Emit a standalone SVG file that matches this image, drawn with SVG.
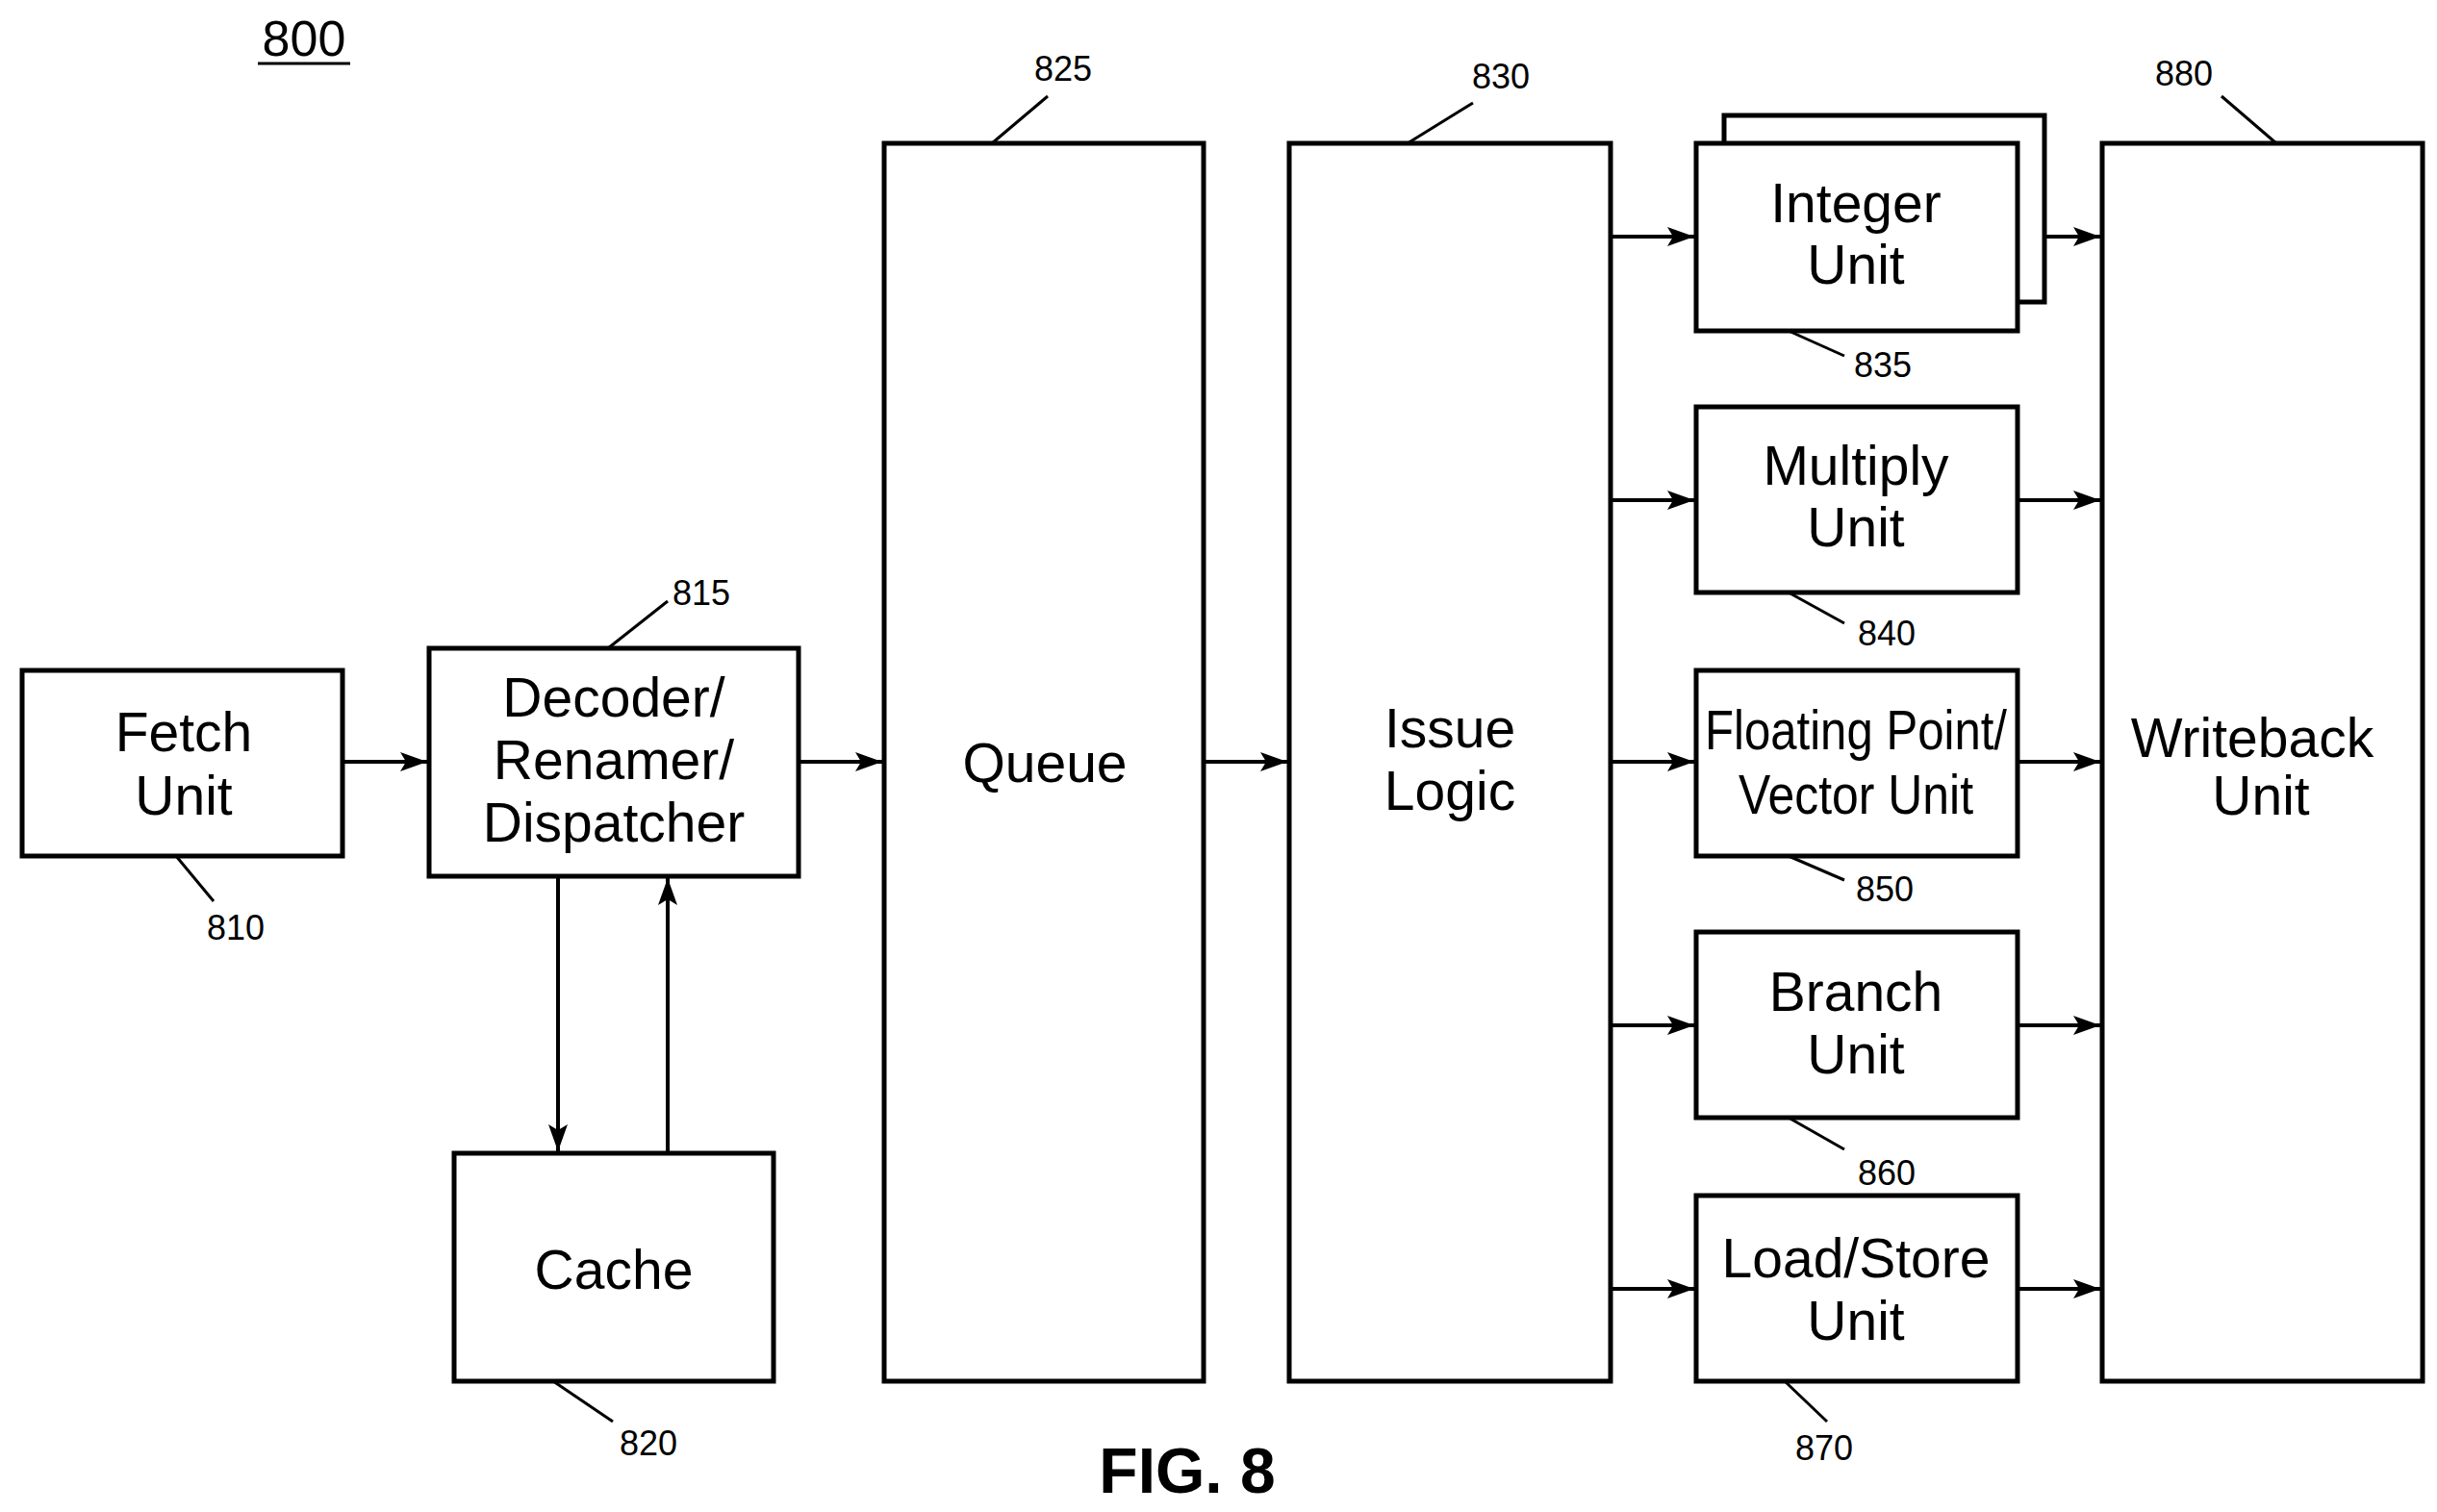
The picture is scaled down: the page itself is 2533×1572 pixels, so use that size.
<svg xmlns="http://www.w3.org/2000/svg" width="2533" height="1572" viewBox="0 0 2533 1572">
<style>
.b{fill:#fff;stroke:#000;stroke-width:5}
.t{font-family:"Liberation Sans",Arial,sans-serif;font-size:57px;text-anchor:middle}
.n{font-family:"Liberation Sans",Arial,sans-serif;font-size:36px;text-anchor:middle}
.c line{stroke:#000;stroke-width:4}
.l{stroke:#000;stroke-width:3}
</style>
<defs><marker id="a" markerWidth="28" markerHeight="20" refX="28" refY="10" orient="auto" markerUnits="userSpaceOnUse" viewBox="0 0 28 20"><path d="M0,0L28,10L0,20L6,10z"/></marker></defs>
<rect width="2533" height="1572" fill="#fff"/>
<text class="n" x="316" y="58" style="font-size:52px">800</text><line class="l" x1="268" y1="66" x2="364" y2="66"/>
<g class="c">
<line x1="356" y1="792" x2="444" y2="792" marker-end="url(#a)"/>
<line x1="830" y1="792" x2="917" y2="792" marker-end="url(#a)"/>
<line x1="1251" y1="792" x2="1338" y2="792" marker-end="url(#a)"/>
<line x1="580" y1="911" x2="580" y2="1197" marker-end="url(#a)"/>
<line x1="694" y1="1199" x2="694" y2="913" marker-end="url(#a)"/>
<line x1="1674" y1="246" x2="1761" y2="246" marker-end="url(#a)"/>
<line x1="1674" y1="520" x2="1761" y2="520" marker-end="url(#a)"/>
<line x1="1674" y1="792" x2="1761" y2="792" marker-end="url(#a)"/>
<line x1="1674" y1="1066" x2="1761" y2="1066" marker-end="url(#a)"/>
<line x1="1674" y1="1340" x2="1761" y2="1340" marker-end="url(#a)"/>
<line x1="2125" y1="246" x2="2183" y2="246" marker-end="url(#a)"/>
<line x1="2097" y1="520" x2="2183" y2="520" marker-end="url(#a)"/>
<line x1="2097" y1="792" x2="2183" y2="792" marker-end="url(#a)"/>
<line x1="2097" y1="1066" x2="2183" y2="1066" marker-end="url(#a)"/>
<line x1="2097" y1="1340" x2="2183" y2="1340" marker-end="url(#a)"/>
</g>
<g id="fetch"><rect class="b" x="23" y="697" width="333" height="193"/><text class="t" x="191" y="781">Fetch</text><text class="t" x="191" y="847">Unit</text><line class="l" x1="183" y1="890" x2="222" y2="937"/><text class="n" x="245" y="977">810</text></g>
<g id="decoder"><rect class="b" x="446" y="674" width="384" height="237"/><text class="t" x="638" y="745">Decoder/</text><text class="t" x="638" y="810">Renamer/</text><text class="t" x="638" y="875">Dispatcher</text><line class="l" x1="632" y1="674" x2="694" y2="625"/><text class="n" x="729" y="629">815</text></g>
<g id="cache"><rect class="b" x="472" y="1199" width="332" height="237"/><text class="t" x="638" y="1340">Cache</text><line class="l" x1="575" y1="1436" x2="637" y2="1478"/><text class="n" x="674" y="1513">820</text></g>
<g id="queue"><rect class="b" x="919" y="149" width="332" height="1287"/><text class="t" x="1086" y="813">Queue</text><line class="l" x1="1031" y1="149" x2="1089" y2="100"/><text class="n" x="1105" y="84">825</text></g>
<g id="issue"><rect class="b" x="1340" y="149" width="334" height="1287"/><text class="t" x="1507" y="777">Issue</text><text class="t" x="1507" y="842">Logic</text><line class="l" x1="1463" y1="149" x2="1531" y2="107"/><text class="n" x="1560" y="92">830</text></g>
<g id="integer"><rect class="b" x="1792" y="120" width="333" height="194"/><rect class="b" x="1763" y="149" width="334" height="195"/><text class="t" x="1929" y="231">Integer</text><text class="t" x="1929" y="295">Unit</text><line class="l" x1="1859" y1="344" x2="1917" y2="370"/><text class="n" x="1957" y="392">835</text></g>
<g id="multiply"><rect class="b" x="1763" y="423" width="334" height="193"/><text class="t" x="1929" y="504">Multiply</text><text class="t" x="1929" y="568">Unit</text><line class="l" x1="1859" y1="616" x2="1917" y2="648"/><text class="n" x="1961" y="671">840</text></g>
<g id="fp"><rect class="b" x="1763" y="697" width="334" height="193"/><text class="t" x="1929" y="779" textLength="314" lengthAdjust="spacingAndGlyphs">Floating Point/</text><text class="t" x="1929" y="846" textLength="244" lengthAdjust="spacingAndGlyphs">Vector Unit</text><line class="l" x1="1859" y1="890" x2="1917" y2="915"/><text class="n" x="1959" y="937">850</text></g>
<g id="branch"><rect class="b" x="1763" y="969" width="334" height="193"/><text class="t" x="1929" y="1051">Branch</text><text class="t" x="1929" y="1116">Unit</text><line class="l" x1="1859" y1="1162" x2="1917" y2="1195"/><text class="n" x="1961" y="1232">860</text></g>
<g id="loadstore"><rect class="b" x="1763" y="1243" width="334" height="193"/><text class="t" x="1929" y="1328">Load/Store</text><text class="t" x="1929" y="1393">Unit</text><line class="l" x1="1855" y1="1436" x2="1899" y2="1478"/><text class="n" x="1896" y="1518">870</text></g>
<g id="writeback"><rect class="b" x="2185" y="149" width="333" height="1287"/><text class="t" x="2341" y="787">Writeback</text><text class="t" x="2350" y="847">Unit</text><line class="l" x1="2309" y1="100" x2="2366" y2="149"/><text class="n" x="2270" y="89">880</text></g>
<text x="1234" y="1552" style="font-family:'Liberation Sans',Arial,sans-serif;font-size:66px;font-weight:bold;text-anchor:middle">FIG. 8</text>
</svg>
